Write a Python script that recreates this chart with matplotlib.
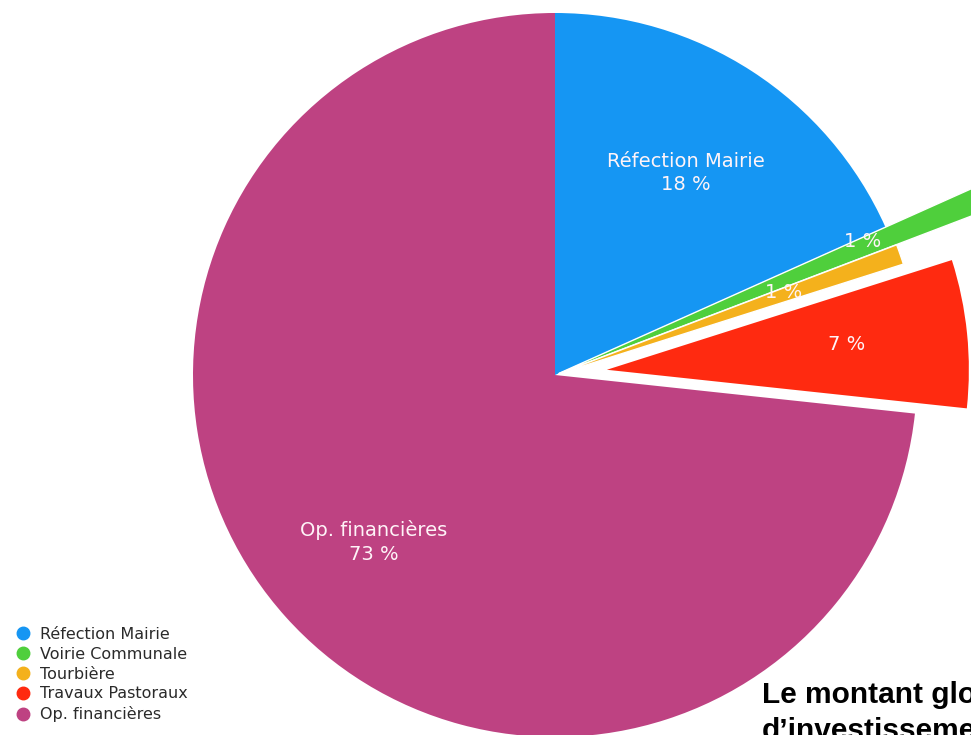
import matplotlib
matplotlib.use("Agg")
import matplotlib.pyplot as plt
from matplotlib.lines import Line2D
import numpy as np

categories = ["Réfection Mairie", "Voirie Communale", "Tourbière", "Travaux Pastoraux", "Op. financières"]
values = [18.3, 0.9, 0.9, 6.6, 73.3]
colors = ["#1596F3", "#4FCF3C", "#F4B11C", "#FF2A10", "#BE4282"]
explode = [0.0, 0.012, 0.01, 0.144, 0.0]
title_text = "Le montant global\nd\u2019investissement"

plt.rcParams['font.family'] = ['DejaVu Sans']

W, H = 971, 735
fig = plt.figure(figsize=(W / 100, H / 100), dpi=100)
ax = fig.add_axes([0, 0, 1, 1])

R = 362
cx, cy = 555, H - 375
wedges, _ = ax.pie(values, colors=colors, startangle=90, counterclock=False,
                   explode=[e * R for e in explode], center=(cx, cy), radius=R,
                   wedgeprops=dict(linewidth=0))
# the green wedge is drawn larger in the reference
wedges[1].set_radius(R * 1.45)
for w in (wedges[1], wedges[2]):
    w.set_edgecolor('white')
    w.set_linewidth(1.0)

ax.set_xlim(0, W)
ax.set_ylim(0, H)
ax.set_aspect('equal')
ax.axis('off')

# slice labels (polar offsets from the pie centre: fraction of R, degrees)
label_pos = [(0.665, 57.0), (0.926, 23.4), (0.67, 19.8), (0.81, 5.9), (0.68, 222.7)]
label_txt = [f"{categories[0]}\n{values[0]:.0f} %", f"{values[1]:.0f} %", f"{values[2]:.0f} %",
             f"{values[3]:.0f} %", f"{categories[4]}\n{values[4]:.0f} %"]
for (rf, ang), t in zip(label_pos, label_txt):
    a = np.deg2rad(ang)
    ax.text(cx + rf * R * np.cos(a), cy + rf * R * np.sin(a), t, color='#FFF4F8',
            ha='center', va='center', fontsize=14, linespacing=1.3)

handles = [Line2D([], [], marker='o', linestyle='none', markersize=9,
                  markerfacecolor=c, markeredgecolor=c) for c in colors]
fig.legend(handles, categories, loc='lower left', bbox_to_anchor=(0.002, 0.0),
           frameon=False, fontsize=11.5, handlelength=1.0, handletextpad=0.6,
           labelspacing=0.30, borderpad=0.3, labelcolor='#2a2a2a')

fig.text(762 / W, 1 - 681 / H, title_text, fontsize=21.5, fontweight='bold',
         color='black', ha='left', va='top', linespacing=1.35,
         family=['Liberation Sans', 'DejaVu Sans'])

fig.savefig("out.png", dpi=100)
